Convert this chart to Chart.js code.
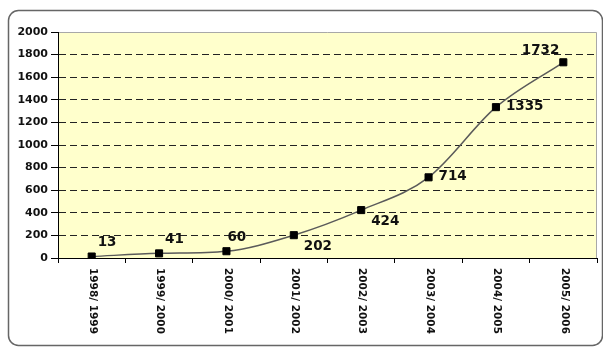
<!DOCTYPE html>
<html>
<head>
<meta charset="utf-8">
<script src="https://cdn.jsdelivr.net/npm/chart.js@4.4.1/dist/chart.umd.min.js"></script>
<style>
  body { margin: 0; background: #fff; }
  #wrap { width: 603px; height: 348px; }
</style>
</head>
<body>
<div id="wrap"><canvas id="growthChart" width="603" height="348"></canvas></div>
<script>
const seasons = ['1998/ 1999', '1999/ 2000', '2000/ 2001', '2001/ 2002',
                 '2002/ 2003', '2003/ 2004', '2004/ 2005', '2005/ 2006'];
const counts = [13, 41, 60, 202, 424, 714, 1335, 1732];
const yTicks = [0, 200, 400, 600, 800, 1000, 1200, 1400, 1600, 1800, 2000];
// where each value label sits around its point
const labelSide = ['ne', 'ne', 'n', 'se', 'se', 'e', 'e', 'nw'];

const FONT = '"DejaVu Sans", Verdana, sans-serif';

// frame, plot background and the rotated season labels
const decor = {
  id: 'decor',
  beforeDraw(chart) {
    const { ctx, chartArea: a } = chart;
    ctx.save();
    ctx.strokeStyle = '#666';
    ctx.lineWidth = 1.5;
    ctx.beginPath();
    ctx.roundRect(8.5, 10.5, 594, 335, 10);
    ctx.stroke();
    ctx.fillStyle = '#ffffcc';
    ctx.fillRect(a.left, a.top, a.right - a.left, a.bottom - a.top);
    ctx.strokeStyle = '#a8a8a8';
    ctx.lineWidth = 1;
    ctx.beginPath();
    ctx.moveTo(a.left, a.top + 0.5);
    ctx.lineTo(a.right - 0.5, a.top + 0.5);
    ctx.lineTo(a.right - 0.5, a.bottom);
    ctx.stroke();
    ctx.restore();
  },
  afterDraw(chart) {
    const { ctx, chartArea: a } = chart;
    const x = chart.scales.x;
    ctx.save();
    ctx.fillStyle = '#111';
    ctx.font = 'bold 10.5px ' + FONT;
    ctx.textAlign = 'left';
    ctx.textBaseline = 'middle';
    seasons.forEach((s, i) => {
      ctx.save();
      ctx.translate(x.getPixelForValue(i) + 1, a.bottom + 10);
      ctx.rotate(Math.PI / 2);
      ctx.fillText(s, 0, 0);
      ctx.restore();
    });

    // value labels
    const meta = chart.getDatasetMeta(0);
    ctx.font = 'bold 13.5px ' + FONT;
    ctx.fillStyle = '#111';
    meta.data.forEach((pt, i) => {
      const side = labelSide[i];
      let dx = 6, dy = -14, align = 'left';
      if (side === 'n') { dx = 1; dy = -14; }
      if (side === 'se') { dx = 10; dy = 11; }
      if (side === 'e') { dx = 10; dy = -0.5; }
      if (side === 'nw') { dx = -4; dy = -11.5; align = 'right'; }
      ctx.textAlign = align;
      ctx.fillText(String(counts[i]), pt.x + dx, pt.y + dy);
    });
    ctx.restore();
  }
};

new Chart(document.getElementById('growthChart'), {
  type: 'line',
  data: {
    labels: seasons,
    datasets: [{
      data: counts,
      borderColor: '#5a5a5a',
      borderWidth: 1.5,
      cubicInterpolationMode: 'monotone',
      pointStyle: 'rect',
      pointRadius: 5,
      pointBackgroundColor: '#000',
      pointBorderColor: '#000',
      pointBorderWidth: 1
    }]
  },
  options: {
    responsive: false,
    animation: false,
    layout: { padding: { top: 32, right: 5, left: 0, bottom: 0 } },
    plugins: { legend: { display: false }, tooltip: { enabled: false } },
    scales: {
      x: {
        offset: true,
        grid: { offset: true, drawOnChartArea: false, tickLength: 5, tickColor: '#000' },
        border: { color: '#000', width: 1 },
        ticks: { display: false },
        afterFit(scale) { scale.height = 90; }
      },
      y: {
        min: 0,
        max: 2000,
        afterBuildTicks(scale) { scale.ticks = yTicks.map(v => ({ value: v })); },
        grid: {
          color: ctx => (ctx.tick && (ctx.tick.value === 0 || ctx.tick.value === 2000)) ? 'rgba(0,0,0,0)' : '#222',
          lineWidth: 1,
          tickLength: 7,
          tickColor: '#000'
        },
        border: { color: '#000', width: 1, dash: [7, 4] },
        ticks: {
          color: '#111',
          padding: 3,
          font: { family: FONT, size: 11, weight: 'bold' },
          callback: v => String(v)
        },
        afterFit(scale) { scale.width = 58; }
      }
    }
  },
  plugins: [decor]
});
</script>
</body>
</html>
